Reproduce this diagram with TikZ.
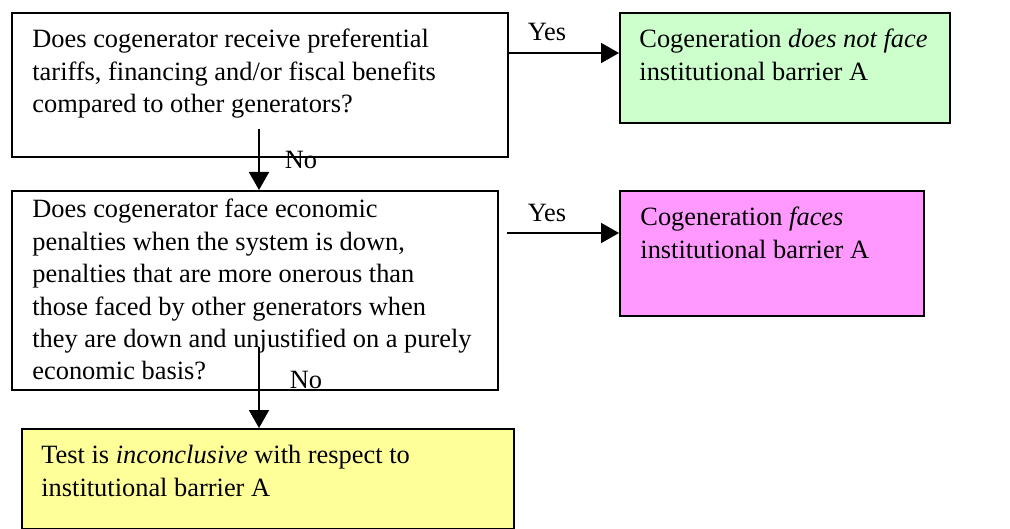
\documentclass[tikz,border=0pt]{standalone}
\usepackage{fontspec}
\setmainfont{Liberation Serif}
\usetikzlibrary{arrows.meta}
\definecolor{okgreen}{HTML}{CCFFCC}
\definecolor{badpink}{HTML}{FF99FF}
\definecolor{resyellow}{HTML}{FFFF99}
\tikzset{
  qbox/.style={draw, line width=1pt, anchor=north west, inner sep=0pt},
  qtext/.style={anchor=north west, inner sep=0pt, align=left, font=\fontsize{13.2}{16.2}\selectfont},
  arr/.style={-{Triangle[length=9pt,width=10pt]}, line width=0.9pt},
  lbl/.style={inner sep=0pt, font=\fontsize{13.2}{16.2}\selectfont}
}
\begin{document}
\begin{tikzpicture}[x=0.5pt, y=-0.5pt]
  \useasboundingbox (0,0) rectangle (1010,529);

  % Hop cau hoi
  \node[qbox, minimum width=248pt, minimum height=72pt] (q1) at (11,12) {};
  \node[qbox, minimum width=243pt, minimum height=99.5pt] (q2) at (11,190) {};

  % Hop ket qua
  \node[qbox, fill=okgreen, minimum width=165pt, minimum height=55pt] (ok) at (619,12) {};
  \node[qbox, fill=badpink, minimum width=152pt, minimum height=62.5pt] (bad) at (619,190) {};
  \node[qbox, fill=resyellow, minimum width=246pt, minimum height=50pt] (res) at (21,428) {};

  % Noi dung
  \node[qtext] (q1t) at ([shift={(21,17)}]q1.north west)
    {Does cogenerator receive preferential\\tariffs, financing and/or fiscal benefits\\compared to other generators?};
  \node[qtext] (q2t) at ([shift={(21,9)}]q2.north west)
    {Does cogenerator face economic\\penalties when the system is down,\\penalties that are more onerous than\\those faced by other generators when\\they are down and unjustified on a purely\\economic basis?};
  \node[qtext] (okt) at ([shift={(20,17)}]ok.north west)
    {Cogeneration \textit{does not face}\\institutional barrier A};
  \node[qtext] (badt) at ([shift={(21,17)}]bad.north west)
    {Cogeneration \textit{faces}\\institutional barrier A};
  \node[qtext] (rest) at ([shift={(20,17)}]res.north west)
    {Test is \textit{inconclusive} with respect to\\institutional barrier A};

  % Mui ten Yes
  \coordinate (s1) at (507,53);
  \coordinate (s2) at (507,233);
  \draw[arr] (s1) -- (s1 -| ok.west);
  \draw[arr] (s2) -- (s2 -| bad.west);
  \node[lbl] (yes1) at (547,32) {Yes};
  \node[lbl] (yes2) at (547,213) {Yes};

  % Mui ten No
  \coordinate (n1) at (259,129);
  \coordinate (n2) at (259,347);
  \draw[arr] (n1) -- (n1 |- q2.north);
  \draw[arr] (n2) -- (n2 |- res.north);
  \node[lbl] (no1) at (301,160) {No};
  \node[lbl] (no2) at (306,380) {No};
\end{tikzpicture}
\end{document}
